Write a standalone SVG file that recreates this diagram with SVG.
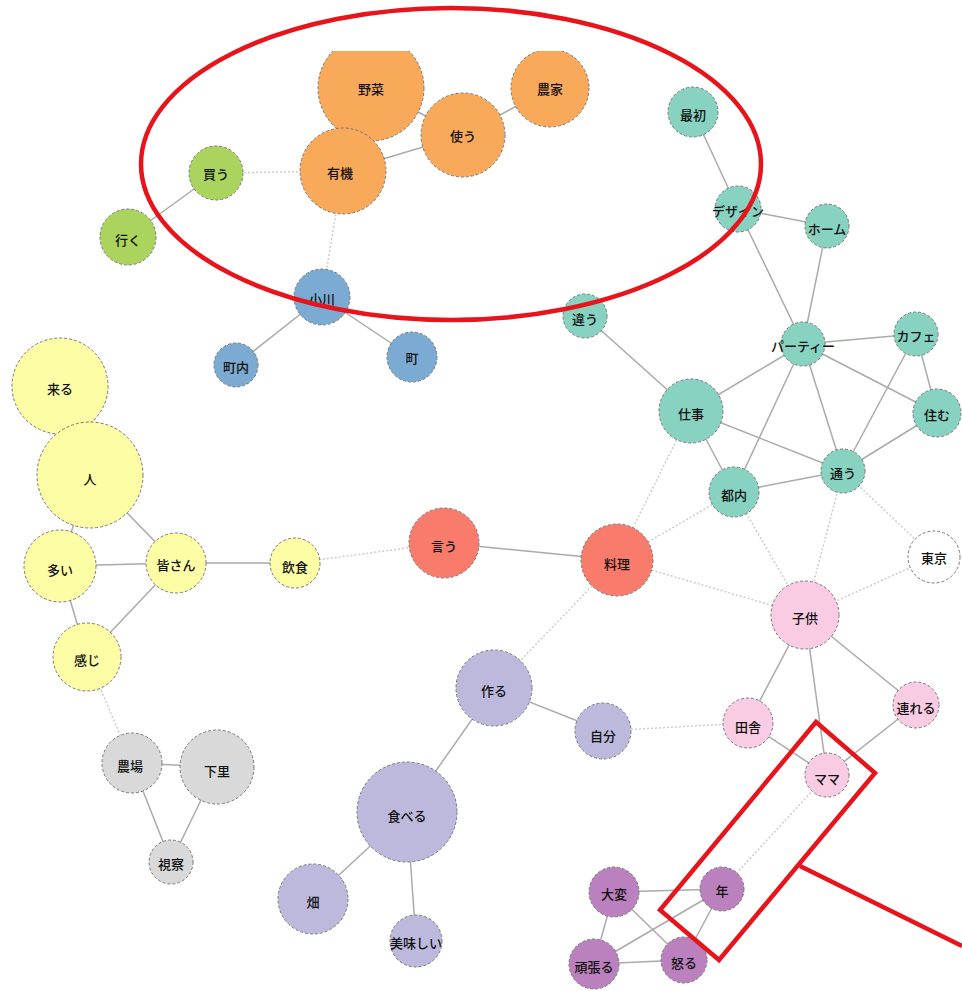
<svg xmlns="http://www.w3.org/2000/svg" width="962" height="991" viewBox="0 0 962 991">
<style>
.n{stroke:#777;stroke-width:1;stroke-dasharray:3 2}
.t{font-family:"Noto Sans CJK JP","Noto Sans",sans-serif;font-size:13px;font-weight:500;fill:#111;text-anchor:middle;dominant-baseline:central}
.s{stroke:#aaa;stroke-width:1.5;fill:none}
.d{stroke:#ccc;stroke-width:1.5;stroke-dasharray:2 2;fill:none}
.or{fill:#F9A95A}.gr{fill:#AAD45E}.bl{fill:#7BAAD2}.te{fill:#88D2C2}.wh{fill:#fff}
.ye{fill:#FDFDA6}.sa{fill:#F87B6C}.pk{fill:#F9CCE4}.la{fill:#BDB9DC}.gy{fill:#D9D9D9}.pu{fill:#BB80BE}
.red{fill:none;stroke:#E8141B;stroke-width:4.5}
</style>
<defs><clipPath id="c"><rect x="0" y="51" width="962" height="940"/></clipPath></defs>
<rect width="962" height="991" fill="#fff"/>
<g id="connectors" clip-path="url(#c)">
<line class="s" x1="216" y1="173" x2="128" y2="237"/>
<line class="s" x1="343" y1="171" x2="463" y2="135"/>
<line class="s" x1="463" y1="135" x2="550" y2="88"/>
<line class="s" x1="371" y1="88" x2="463" y2="135"/>
<line class="s" x1="322" y1="297" x2="236" y2="365"/>
<line class="s" x1="322" y1="297" x2="412" y2="357"/>
<line class="s" x1="693" y1="112" x2="738" y2="209"/>
<line class="s" x1="738" y1="209" x2="827" y2="226"/>
<line class="s" x1="738" y1="209" x2="803" y2="344"/>
<line class="s" x1="827" y1="226" x2="803" y2="344"/>
<line class="s" x1="585" y1="316" x2="691" y2="411"/>
<line class="s" x1="803" y1="344" x2="916" y2="334"/>
<line class="s" x1="803" y1="344" x2="691" y2="411"/>
<line class="s" x1="803" y1="344" x2="734" y2="492"/>
<line class="s" x1="803" y1="344" x2="843" y2="471"/>
<line class="s" x1="803" y1="344" x2="937" y2="413"/>
<line class="s" x1="916" y1="334" x2="937" y2="413"/>
<line class="s" x1="916" y1="334" x2="843" y2="471"/>
<line class="s" x1="937" y1="413" x2="843" y2="471"/>
<line class="s" x1="691" y1="411" x2="843" y2="471"/>
<line class="s" x1="691" y1="411" x2="734" y2="492"/>
<line class="s" x1="734" y1="492" x2="843" y2="471"/>
<line class="s" x1="90" y1="475" x2="176" y2="563"/>
<line class="s" x1="90" y1="475" x2="60" y2="566"/>
<line class="s" x1="60" y1="566" x2="176" y2="563"/>
<line class="s" x1="60" y1="566" x2="87" y2="657"/>
<line class="s" x1="176" y1="563" x2="87" y2="657"/>
<line class="s" x1="176" y1="563" x2="295" y2="563"/>
<line class="s" x1="444" y1="543" x2="617" y2="560"/>
<line class="s" x1="132" y1="763" x2="217" y2="767"/>
<line class="s" x1="132" y1="763" x2="171" y2="862"/>
<line class="s" x1="217" y1="767" x2="171" y2="862"/>
<line class="s" x1="494" y1="688" x2="603" y2="731"/>
<line class="s" x1="494" y1="688" x2="407" y2="812"/>
<line class="s" x1="407" y1="812" x2="313" y2="899"/>
<line class="s" x1="407" y1="812" x2="416" y2="941"/>
<line class="s" x1="805" y1="615" x2="748" y2="723"/>
<line class="s" x1="805" y1="615" x2="827" y2="775"/>
<line class="s" x1="805" y1="615" x2="916" y2="705"/>
<line class="s" x1="748" y1="723" x2="827" y2="775"/>
<line class="s" x1="916" y1="705" x2="827" y2="775"/>
<line class="s" x1="614" y1="892" x2="722" y2="889"/>
<line class="s" x1="614" y1="892" x2="594" y2="964"/>
<line class="s" x1="614" y1="892" x2="684" y2="960"/>
<line class="s" x1="594" y1="964" x2="684" y2="960"/>
<line class="s" x1="594" y1="964" x2="722" y2="889"/>
<line class="s" x1="684" y1="960" x2="722" y2="889"/>
<line class="d" x1="216" y1="173" x2="343" y2="171"/>
<line class="d" x1="343" y1="171" x2="322" y2="297"/>
<line class="d" x1="295" y1="563" x2="444" y2="543"/>
<line class="d" x1="617" y1="560" x2="691" y2="411"/>
<line class="d" x1="617" y1="560" x2="734" y2="492"/>
<line class="d" x1="617" y1="560" x2="805" y2="615"/>
<line class="d" x1="617" y1="560" x2="494" y2="688"/>
<line class="d" x1="734" y1="492" x2="805" y2="615"/>
<line class="d" x1="843" y1="471" x2="805" y2="615"/>
<line class="d" x1="843" y1="471" x2="934" y2="557"/>
<line class="d" x1="934" y1="557" x2="805" y2="615"/>
<line class="d" x1="603" y1="731" x2="748" y2="723"/>
<line class="d" x1="827" y1="775" x2="722" y2="889"/>
<line class="d" x1="87" y1="657" x2="132" y2="763"/>
</g>
<g clip-path="url(#c)">
<g id="n-yasai"><circle class="n or" cx="371" cy="88" r="53"/><text class="t" x="371" y="88">野菜</text></g>
<g id="n-nouka"><circle class="n or" cx="550" cy="88" r="39"/><text class="t" x="550" y="88">農家</text></g>
<g id="n-tsukau"><circle class="n or" cx="463" cy="135" r="42"/><text class="t" x="463" y="135">使う</text></g>
<g id="n-yuuki"><circle class="n or" cx="343" cy="171" r="43"/><text class="t" x="340" y="172">有機</text></g>
<g id="n-kau"><circle class="n gr" cx="216" cy="173" r="27"/><text class="t" x="216" y="173">買う</text></g>
<g id="n-iku"><circle class="n gr" cx="128" cy="237" r="28"/><text class="t" x="128" y="239">行く</text></g>
<g id="n-ogawa"><circle class="n bl" cx="322" cy="297" r="28"/><text class="t" x="322" y="298">小川</text></g>
<g id="n-chounai"><circle class="n bl" cx="236" cy="365" r="22"/><text class="t" x="236" y="366">町内</text></g>
<g id="n-machi"><circle class="n bl" cx="412" cy="357" r="25"/><text class="t" x="412" y="357">町</text></g>
<g id="n-saisho"><circle class="n te" cx="693" cy="112" r="25"/><text class="t" x="693" y="114">最初</text></g>
<g id="n-design"><circle class="n te" cx="738" cy="209" r="23"/><text class="t" x="738" y="210">デザイン</text></g>
<g id="n-home"><circle class="n te" cx="827" cy="226" r="22"/><text class="t" x="827" y="228">ホーム</text></g>
<g id="n-chigau"><circle class="n te" cx="585" cy="316" r="22"/><text class="t" x="585" y="318">違う</text></g>
<g id="n-party"><circle class="n te" cx="803" cy="344" r="22"/><text class="t" x="803" y="345">パーティー</text></g>
<g id="n-cafe"><circle class="n te" cx="916" cy="334" r="22"/><text class="t" x="916" y="335">カフェ</text></g>
<g id="n-sumu"><circle class="n te" cx="937" cy="413" r="24"/><text class="t" x="937" y="414">住む</text></g>
<g id="n-shigoto"><circle class="n te" cx="691" cy="411" r="32"/><text class="t" x="691" y="413">仕事</text></g>
<g id="n-kayou"><circle class="n te" cx="843" cy="471" r="22"/><text class="t" x="843" y="472">通う</text></g>
<g id="n-tonai"><circle class="n te" cx="734" cy="492" r="25"/><text class="t" x="734" y="494">都内</text></g>
<g id="n-tokyo"><circle class="n wh" cx="934" cy="557" r="26"/><text class="t" x="934" y="557">東京</text></g>
<g id="n-kuru"><circle class="n ye" cx="60" cy="386" r="48"/><text class="t" x="60" y="388">来る</text></g>
<g id="n-hito"><circle class="n ye" cx="90" cy="475" r="53"/><text class="t" x="90" y="478">人</text></g>
<g id="n-ooi"><circle class="n ye" cx="60" cy="566" r="36"/><text class="t" x="60" y="569">多い</text></g>
<g id="n-minasan"><circle class="n ye" cx="176" cy="563" r="30"/><text class="t" x="176" y="564">皆さん</text></g>
<g id="n-kanji"><circle class="n ye" cx="87" cy="657" r="34"/><text class="t" x="87" y="659">感じ</text></g>
<g id="n-inshoku"><circle class="n ye" cx="295" cy="563" r="25"/><text class="t" x="295" y="566">飲食</text></g>
<g id="n-iu"><circle class="n sa" cx="444" cy="543" r="35"/><text class="t" x="444" y="545">言う</text></g>
<g id="n-ryouri"><circle class="n sa" cx="617" cy="560" r="36"/><text class="t" x="617" y="563">料理</text></g>
<g id="n-kodomo"><circle class="n pk" cx="805" cy="615" r="34"/><text class="t" x="805" y="617">子供</text></g>
<g id="n-inaka"><circle class="n pk" cx="748" cy="723" r="25"/><text class="t" x="748" y="726">田舎</text></g>
<g id="n-tsureru"><circle class="n pk" cx="916" cy="705" r="23"/><text class="t" x="916" y="707">連れる</text></g>
<g id="n-mama"><circle class="n pk" cx="827" cy="775" r="22"/><text class="t" x="827" y="778">ママ</text></g>
<g id="n-tsukuru"><circle class="n la" cx="494" cy="688" r="38"/><text class="t" x="494" y="690">作る</text></g>
<g id="n-jibun"><circle class="n la" cx="603" cy="731" r="28"/><text class="t" x="603" y="735">自分</text></g>
<g id="n-taberu"><circle class="n la" cx="407" cy="812" r="50"/><text class="t" x="407" y="815">食べる</text></g>
<g id="n-hatake"><circle class="n la" cx="313" cy="899" r="35"/><text class="t" x="313" y="901">畑</text></g>
<g id="n-oishii"><circle class="n la" cx="416" cy="941" r="26"/><text class="t" x="416" y="942">美味しい</text></g>
<g id="n-noujou"><circle class="n gy" cx="132" cy="763" r="30"/><text class="t" x="130" y="765">農場</text></g>
<g id="n-shimosato"><circle class="n gy" cx="217" cy="767" r="37"/><text class="t" x="217" y="770">下里</text></g>
<g id="n-shisatsu"><circle class="n gy" cx="171" cy="862" r="22"/><text class="t" x="171" y="863">視察</text></g>
<g id="n-taihen"><circle class="n pu" cx="614" cy="892" r="25"/><text class="t" x="614" y="893">大変</text></g>
<g id="n-toshi"><circle class="n pu" cx="722" cy="889" r="22"/><text class="t" x="722" y="890">年</text></g>
<g id="n-ganbaru"><circle class="n pu" cx="594" cy="964" r="25"/><text class="t" x="594" y="966">頑張る</text></g>
<g id="n-okoru"><circle class="n pu" cx="684" cy="960" r="23"/><text class="t" x="684" y="962">怒る</text></g>
</g>
<g id="annotations">
<ellipse class="red" cx="451" cy="164" rx="310" ry="156"/>
<polygon class="red" points="816,722 875,773 719,960 660,910"/>
<line class="red" x1="800" y1="866" x2="962" y2="946"/>
</g>
</svg>
